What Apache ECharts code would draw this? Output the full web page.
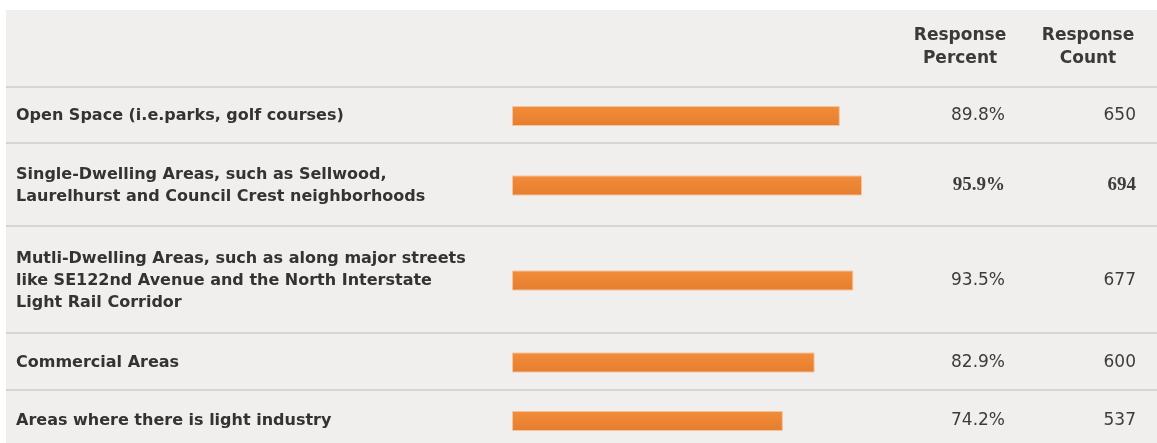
<!DOCTYPE html>
<html>
<head>
<meta charset="utf-8">
<script src="https://cdn.jsdelivr.net/npm/echarts@6/dist/echarts.min.js"></script>
<style>
html,body{margin:0;padding:0;background:#ffffff;}
#chart{width:1157px;height:443px;}
</style>
</head>
<body>
<div id="chart"></div>
<script>
// ---- data ----
var categories = [
  'Open Space (i.e.parks, golf courses)',
  'Single-Dwelling Areas, such as Sellwood,\nLaurelhurst and Council Crest neighborhoods',
  'Mutli-Dwelling Areas, such as along major streets\nlike SE122nd Avenue and the North Interstate\nLight Rail Corridor',
  'Commercial Areas',
  'Areas where there is light industry'
];
var responsePercent = [89.8, 95.9, 93.5, 82.9, 74.2];
var responseCount = [650, 694, 677, 600, 537];
var headerLabels = ['Response\nPercent', 'Response\nCount'];

// ---- layout ----
var rowTops = [87, 143, 226, 333, 390];
var rowBottoms = [143, 226, 333, 390, 450];
var barLeft = 512, barWidthPx = 365;
var textColor = '#333333';
var maxIdx = responseCount.indexOf(Math.max.apply(null, responseCount));

var grids = [], xAxes = [], yAxes = [], series = [];
for (var i = 0; i < categories.length; i++) {
  var isMax = (i === maxIdx);
  var center = (rowTops[i] + rowBottoms[i]) / 2 + 1;
  grids.push({left: barLeft, width: barWidthPx, top: center - 20, height: 40, containLabel: false});
  xAxes.push({gridIndex: i, type: 'value', min: 0, max: 100, show: false});
  var numStyle = {
    color: '#3c3c3c',
    fontSize: isMax ? 19 : 17,
    fontWeight: isMax ? 'bold' : 'normal',
    fontFamily: isMax ? 'Liberation Serif' : 'DejaVu Sans',
    align: 'right',
    padding: [2, 0, 0, 0]
  };
  yAxes.push({
    gridIndex: i, type: 'category', data: [categories[i]], position: 'left',
    axisLine: {show: false}, axisTick: {show: false}, splitLine: {show: false},
    axisLabel: {align: 'left', margin: barLeft - 16, fontSize: 16, fontWeight: 'bold',
      color: textColor, lineHeight: 22, fontFamily: 'DejaVu Sans', padding: [6, 0, 0, 0]}
  });
  yAxes.push({
    gridIndex: i, type: 'category', data: [responsePercent[i].toFixed(1) + '%'], position: 'right', offset: 0,
    axisLine: {show: false}, axisTick: {show: false}, splitLine: {show: false},
    axisLabel: Object.assign({margin: 1005 - (barLeft + barWidthPx)}, numStyle)
  });
  yAxes.push({
    gridIndex: i, type: 'category', data: [String(responseCount[i])], position: 'right', offset: 0,
    axisLine: {show: false}, axisTick: {show: false}, splitLine: {show: false},
    axisLabel: Object.assign({margin: 1136 - (barLeft + barWidthPx)}, numStyle)
  });
  series.push({
    type: 'bar', xAxisIndex: i, yAxisIndex: i * 3, data: [responsePercent[i]],
    barWidth: 20, silent: true,
    itemStyle: {
      color: new echarts.graphic.LinearGradient(0, 0, 0, 1, [
        {offset: 0, color: '#f28d3a'}, {offset: 1, color: '#e57d2e'}
      ]),
      borderColor: '#f6c49c', borderWidth: 1
    }
  });
}

var graphics = [
  {type: 'rect', z: -10, shape: {x: 6, y: 10, width: 1151, height: 440}, style: {fill: '#f0efed'}}
];
rowTops.forEach(function (y) {
  graphics.push({type: 'rect', z: -5, shape: {x: 6, y: y - 1, width: 1151, height: 2}, style: {fill: '#d6d5d3'}});
});
var hdrFont = 'bold 17px "DejaVu Sans"';
graphics.push({type: 'text', x: 960, y: 24, style: {text: headerLabels[0], align: 'center', verticalAlign: 'top', fill: '#3a3a3a', font: hdrFont, lineHeight: 23}});
graphics.push({type: 'text', x: 1088, y: 24, style: {text: headerLabels[1], align: 'center', verticalAlign: 'top', fill: '#3a3a3a', font: hdrFont, lineHeight: 23}});

var chart = echarts.init(document.getElementById('chart'), null, {renderer: 'canvas'});
chart.setOption({
  backgroundColor: '#ffffff',
  animation: false,
  grid: grids,
  xAxis: xAxes,
  yAxis: yAxes,
  series: series,
  graphic: graphics
});
</script>
</body>
</html>
